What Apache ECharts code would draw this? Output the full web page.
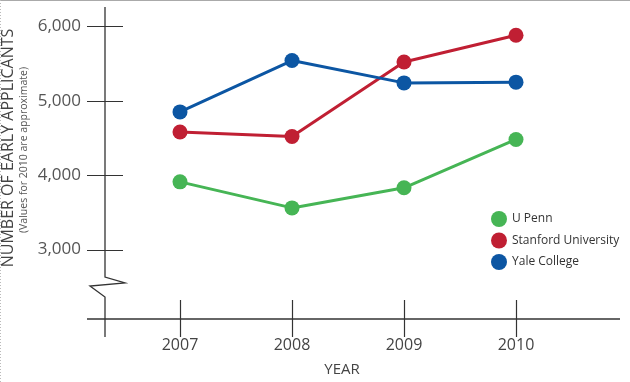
<!DOCTYPE html>
<html>
<head>
<meta charset="utf-8">
<script src="https://cdn.jsdelivr.net/npm/echarts@6/dist/echarts.min.js"></script>
<style>
html,body{margin:0;padding:0;background:#fff;}
#c{width:630px;height:382px;}
</style>
</head>
<body>
<div id="c"></div>
<script>
// ---- data ----
var years = ['2007', '2008', '2009', '2010'];
var seriesNames = ['U Penn', 'Stanford University', 'Yale College'];
var uPenn = [3910, 3560, 3830, 4480];
var stanford = [4580, 4520, 5520, 5880];
var yale = [4850, 5540, 5240, 5250];
var yTicks = [3000, 4000, 5000, 6000];
var yTickLabels = ['3,000', '4,000', '5,000', '6,000'];
var yTitle = 'NUMBER OF EARLY APPLICANTS';
var ySubTitle = '(Values for 2010 are approximate)';
var xTitle = 'YEAR';

var colors = ['#46b555', '#c01f33', '#0c56a3'];
var FONT = '"Open Sans", "Liberation Sans", sans-serif';

var chart = echarts.init(document.getElementById('c'), null, {renderer: 'canvas'});

function mkSeries(name, data, color) {
  return {
    name: name, type: 'line', data: data,
    symbol: 'circle', symbolSize: 15,
    lineStyle: {width: 3, color: color},
    itemStyle: {color: color},
    emphasis: {disabled: true},
    animation: false, z: 3
  };
}

chart.setOption({
  animation: false,
  grid: {left: 180, right: 114, top: 4, bottom: 58, containLabel: false},
  xAxis: {
    type: 'category', data: years, boundaryGap: false,
    axisLine: {show: false}, axisTick: {show: false}, splitLine: {show: false},
    axisLabel: {color: '#444', fontSize: 16, fontFamily: FONT, margin: 13}
  },
  yAxis: {
    type: 'value', min: 2000, max: 6300,
    axisLine: {show: false}, axisTick: {show: false}, splitLine: {show: false},
    axisLabel: {
      customValues: yTicks,
      color: '#555', fontSize: 17, fontFamily: FONT, margin: 99,
      formatter: function (v) { var i = yTicks.indexOf(v); return i >= 0 ? yTickLabels[i] : ''; }
    }
  },
  legend: {
    orient: 'vertical', left: 486, top: 206,
    icon: 'circle', itemWidth: 16, itemHeight: 16, itemGap: 5.5,
    textStyle: {color: '#333', fontSize: 12, fontFamily: FONT},
    data: seriesNames, selectedMode: false
  },
  series: [
    mkSeries(seriesNames[0], uPenn, colors[0]),
    mkSeries(seriesNames[1], stanford, colors[1]),
    mkSeries(seriesNames[2], yale, colors[2])
  ]
});

// ---- axis decorations (lines, cross ticks, break) ----
var ax = '#333';
var yAxisX = 105, xAxisY = 319;
var g = [];
// y axis with break zigzag
g.push({type: 'polyline', shape: {points: [[yAxisX, 7], [yAxisX, 277], [125, 283], [90, 286], [yAxisX, 297], [yAxisX, 337]]},
  style: {stroke: ax, lineWidth: 1.3, fill: null}, silent: true});
// x axis line
g.push({type: 'line', shape: {x1: 87, y1: xAxisY, x2: 620, y2: xAxisY}, style: {stroke: ax, lineWidth: 1.3}, silent: true});
// y ticks
yTicks.forEach(function (v) {
  var py = Math.round(chart.convertToPixel({yAxisIndex: 0}, v)) + 0.5;
  g.push({type: 'line', shape: {x1: 87, y1: py, x2: 123, y2: py}, style: {stroke: ax, lineWidth: 1.2}, silent: true});
});
// x ticks
years.forEach(function (y, i) {
  var px = Math.round(chart.convertToPixel({xAxisIndex: 0}, i)) + 0.5;
  g.push({type: 'line', shape: {x1: px, y1: 300, x2: px, y2: 337}, style: {stroke: ax, lineWidth: 1.2}, silent: true});
});
// titles
g.push({type: 'text', x: 8, y: 148, rotation: Math.PI / 2,
  style: {text: yTitle, fill: '#444', font: '16px ' + FONT, align: 'center', verticalAlign: 'middle'}, silent: true});
g.push({type: 'text', x: 24, y: 150, rotation: Math.PI / 2,
  style: {text: ySubTitle, fill: '#555', font: '10.5px ' + FONT, align: 'center', verticalAlign: 'middle'}, silent: true});
g.push({type: 'text', x: 342, y: 370,
  style: {text: xTitle, fill: '#444', font: '15px ' + FONT, align: 'center', verticalAlign: 'middle'}, silent: true});
// frame edges
g.push({type: 'line', shape: {x1: 0, y1: 0.5, x2: 630, y2: 0.5}, style: {stroke: '#aaa', lineWidth: 1}, silent: true});
g.push({type: 'line', shape: {x1: 0.5, y1: 0, x2: 0.5, y2: 382}, style: {stroke: '#bbb', lineWidth: 1, lineDash: [1, 2]}, silent: true});

chart.setOption({graphic: g});
</script>
</body>
</html>
